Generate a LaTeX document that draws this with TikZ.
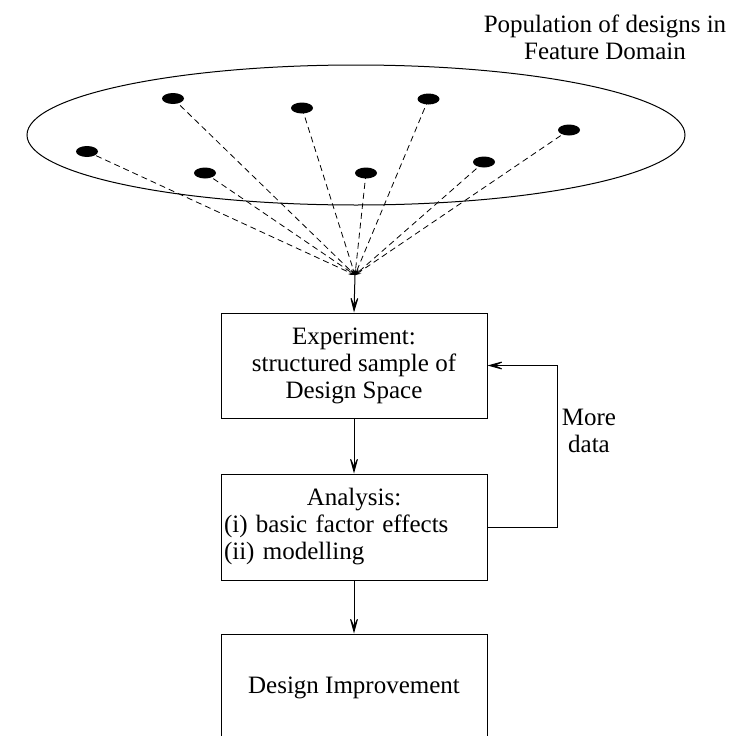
\documentclass[tikz,border=0pt]{standalone}
\usepackage{fontspec}
\setmainfont{Liberation Serif}
\usetikzlibrary{arrows.meta,shapes.geometric}
\begin{document}
\begin{tikzpicture}[x=1pt,y=-1pt,
  every node/.style={font=\fontsize{25}{27}\selectfont},
  stage/.style={draw, line width=1pt, minimum width=266pt, inner xsep=3pt, inner ysep=0pt},
  dot/.style={ellipse, fill=black, minimum width=22pt, minimum height=11pt, inner sep=0pt},
  probe/.style={dash pattern=on 6pt off 4pt, line width=0.8pt,
                -{Stealth[length=6pt,width=5pt,inset=3pt]}},
  flow/.style={line width=1pt, -{Stealth[length=20pt,width=11pt,inset=12pt]}}]
\useasboundingbox (0,0) rectangle (731,736);

% feature domain with its population of designs
\node[draw, ellipse, line width=1pt, minimum width=658pt, minimum height=140pt, inner sep=0pt]
  (domain) at (356,135) {};
\node[align=center] (pop) at (605,37) {Population of designs in\\Feature Domain};

\node[dot] (d1) at (87,151.5) {};
\node[dot] (d2) at (173,98.5) {};
\node[dot] (d3) at (205,173) {};
\node[dot] (d4) at (302,108) {};
\node[dot] (d5) at (366,173) {};
\node[dot] (d6) at (428.5,99) {};
\node[dot] (d7) at (484,162) {};
\node[dot] (d8) at (569,130) {};

\coordinate (hub) at (355,275);
\foreach \d in {d1,d2,d3,d4,d5,d6,d7,d8}
  \draw[probe] (\d.center) -- (hub);

% process stages
\node[stage, minimum height=105pt, align=center] (exp) at (354,365.5)
  {Experiment:\\structured sample of\\Design Space};
\node[stage, minimum height=106pt, text width=260pt, align=left] (ana) at (354,527)
  {\makebox[260pt][c]{Analysis:}\\(i) basic factor effects\\(ii) modelling};
\node[stage, minimum height=108pt] (imp) at (354,688) {Design Improvement};

\draw[flow] (hub) -- (exp.north);
\draw[flow] (exp) -- (ana);
\draw[flow] (ana) -- (imp);

% feedback loop
\draw[flow] (ana.east) -- ++(70,0) |- (exp.east);
\node[align=center] (more) at (589,431) {More\\data};
\end{tikzpicture}
\end{document}
